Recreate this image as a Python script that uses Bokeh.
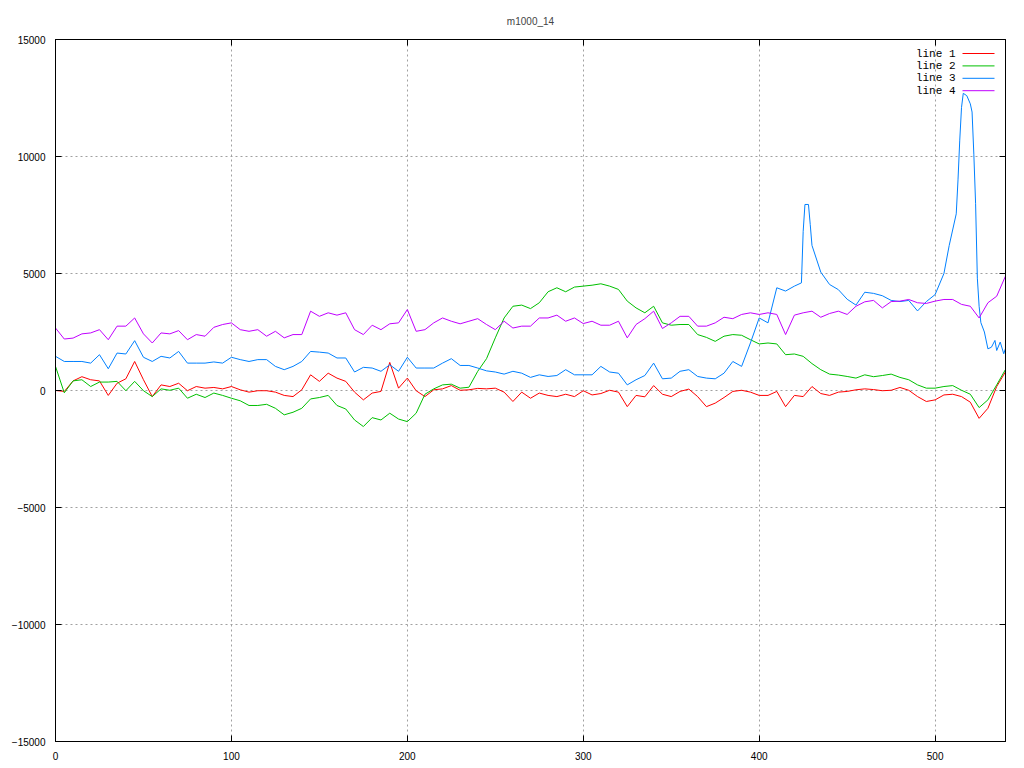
from bokeh.plotting import figure
from bokeh.models import Range1d, LinearAxis, SingleIntervalTicker, Label, Arrow
from bokeh.embed import file_html
from bokeh.resources import INLINE

# ---------------- data ----------------
title_text = "m1000_14"
series_names = ["line 1", "line 2", "line 3", "line 4"]
series_colors = ["#ff0000", "#00c000", "#0080ff", "#c000ff"]

x_common = list(range(0, 541, 5))

line1 = [0, -40, 410, 590, 460, 410, -210, 310, 500, 1240,
         460, -260, 240, 170, 310, -10, 170, 100, 130, 70,
         170, 30, -70, -10, -10, -70, -210, -260, 30, 670,
         390, 740, 530, 390, -70, -400, -110, -40, 1200, 100,
         530, -10, -260, 30, 70, 210, 10, 30, 90, 70,
         100, -70, -470, -70, -330, -110, -210, -260, -160, -260,
         -10, -190, -130, 10, -70, -690, -210, -270, 210, -160,
         -260, -40, 60, -260, -690, -540, -300, -40, 10, -70,
         -210, -210, -40, -690, -210, -260, 170, -130, -210, -70,
         -40, 30, 70, 40, -10, 10, 130, 10, -260, -470,
         -400, -190, -160, -260, -500, -1190, -760, 170, 800]

line2 = [1030, -100, 410, 460, 170, 360, 360, 390, -10, 390,
         -10, -260, 70, 10, 100, -330, -160, -300, -110, -210,
         -330, -440, -640, -640, -590, -760, -1040, -930, -760, -360,
         -300, -210, -640, -790, -1260, -1540, -1160, -1260, -970, -1220,
         -1330, -970, -160, 70, 240, 270, 100, 140, 820, 1360,
         2250, 3100, 3600, 3650, 3500, 3750, 4220, 4390, 4220, 4420,
         4460, 4500, 4560, 4460, 4320, 3820, 3530, 3320, 3600, 2890,
         2790, 2820, 2820, 2390, 2270, 2100, 2320, 2390, 2360, 2170,
         1990, 2030, 1990, 1530, 1560, 1460, 1150, 890, 700, 660,
         600, 530, 670, 590, 640, 700, 560, 460, 240, 100,
         100, 170, 210, 10, -160, -730, -400, 240, 900]

line3_x = list(range(0, 421, 5)) + [424, 425, 426, 428, 429, 430, 435, 440, 445,
                                     450, 455, 460, 465, 470, 475, 480, 485, 490,
                                     495, 500, 505, 508, 512, 513, 514, 515, 516,
                                     518, 520, 521, 522, 523, 524, 525, 526, 528,
                                     530, 532, 534, 535, 537, 539, 540]
line3 = [1460, 1240, 1240, 1240, 1170, 1530, 930, 1600, 1560, 2130,
         1420, 1240, 1460, 1390, 1670, 1170, 1170, 1170, 1220, 1170,
         1420, 1320, 1240, 1320, 1320, 1030, 890, 1030, 1240, 1670,
         1640, 1600, 1390, 1390, 790, 990, 960, 820, 1100, 820,
         1420, 960, 960, 960, 1170, 1360, 1070, 1070, 960, 840,
         790, 700, 820, 740, 560, 670, 600, 640, 890, 670,
         670, 670, 1030, 790, 740, 240, 460, 640, 1170, 500,
         530, 820, 890, 600, 530, 500, 740, 1240, 1030, 2030,
         3100, 2890, 4390, 4250, 4460,
         4600, 6800, 7950, 7950, 7100, 6200, 5060, 4530, 4310,
         3900, 3650, 4200, 4150, 4050, 3850, 3800, 3850, 3400,
         3800, 4100, 5000, 6200, 7550, 9000, 10700, 12100, 12700,
         12600, 12250, 11900, 10100, 8000, 4800, 3600, 2900, 2500,
         1780, 1850, 2140, 1710, 2070, 1570, 1800]

line4 = [2670, 2200, 2240, 2420, 2460, 2600, 2170, 2750, 2750, 3100,
         2420, 2030, 2460, 2420, 2560, 2170, 2390, 2320, 2700, 2820,
         2890, 2600, 2530, 2600, 2320, 2530, 2250, 2390, 2390, 3390,
         3170, 3320, 3220, 3320, 2600, 2390, 2790, 2600, 2850, 2890,
         3460, 2530, 2600, 2890, 3100, 2960, 2850, 2960, 3070, 2820,
         2600, 2960, 2670, 2750, 2750, 3100, 3100, 3220, 2960, 3100,
         2860, 2960, 2790, 2790, 2960, 2250, 2820, 3070, 3390, 2650,
         2890, 3170, 3170, 2750, 2750, 2890, 3130, 3070, 3250, 3320,
         3250, 3320, 3250, 2390, 3220, 3320, 3390, 3130, 3290, 3390,
         3250, 3600, 3790, 3850, 3530, 3800, 3820, 3890, 3750, 3720,
         3820, 3890, 3890, 3680, 3600, 3100, 3750, 4030, 4890]

x_ticks_interval = 100
y_ticks_interval = 5000
x_min, x_max = 0, 540
y_min, y_max = -15000, 15000

# ---------------- figure ----------------
p = figure(width=1017, height=767,
           x_range=Range1d(x_min, x_max), y_range=Range1d(y_min, y_max),
           output_backend="svg", toolbar_location=None,
           min_border_left=55, min_border_right=12,
           min_border_top=39, min_border_bottom=26)

p.title.text = title_text
p.title.align = "center"
p.title.text_font = "Liberation Sans"
p.title.text_font_size = "10px"
p.title.text_font_style = "normal"
p.title.standoff = 26

p.outline_line_color = "black"
p.outline_line_alpha = 1.0
p.outline_line_width = 1
p.background_fill_color = "white"
p.border_fill_color = "white"

xt = SingleIntervalTicker(interval=x_ticks_interval, num_minor_ticks=0)
yt = SingleIntervalTicker(interval=y_ticks_interval, num_minor_ticks=0)

for ax in p.xaxis:
    ax.ticker = xt
for ax in p.yaxis:
    ax.ticker = yt

top_axis = LinearAxis(ticker=xt)
right_axis = LinearAxis(ticker=yt)
p.add_layout(top_axis, "above")
p.add_layout(right_axis, "right")

for ax in list(p.xaxis) + list(p.yaxis):
    ax.axis_line_color = "black"
    ax.major_tick_line_color = "black"
    ax.major_tick_in = 6
    ax.major_tick_out = 0
    ax.minor_tick_line_color = None
    ax.major_label_text_font = "Liberation Sans"
    ax.major_label_text_font_size = "10px"
    ax.major_label_text_color = "black"
    ax.major_label_standoff = 10

# mirrored tick marks only (no labels) on top and right
for ax in (top_axis, right_axis):
    ax.major_label_text_color = None
    ax.major_label_text_font_size = "1px"
    ax.major_label_standoff = 0

p.xgrid.ticker = xt
p.ygrid.ticker = yt
p.grid.grid_line_color = "#a0a0a0"
p.grid.grid_line_dash = "2 3"
p.grid.grid_line_width = 1

xs_list = [x_common, x_common, line3_x, x_common]
ys_list = [line1, line2, line3, line4]
for xs, ys, c in zip(xs_list, ys_list, series_colors):
    p.line(xs, ys, line_color=c, line_width=1)

# gnuplot-style key: text then sample line, top right inside frame
key_text_right = 900
key_line_start = 907
key_line_end = 939
key_top = 688
key_step = 12.4
for i, (name, c) in enumerate(zip(series_names, series_colors)):
    yy = key_top - i * key_step
    p.add_layout(Label(x=key_text_right, y=yy, x_units="screen", y_units="screen",
                       text=name, text_align="right", text_baseline="middle",
                       text_font="Liberation Mono", text_font_size="11px",
                       text_color="black"))
    p.add_layout(Arrow(x_start=key_line_start, y_start=yy, x_end=key_line_end, y_end=yy,
                       start_units="screen", end_units="screen", start=None, end=None,
                       line_color=c, line_width=1))

open("out.html", "w").write(file_html(p, INLINE))
